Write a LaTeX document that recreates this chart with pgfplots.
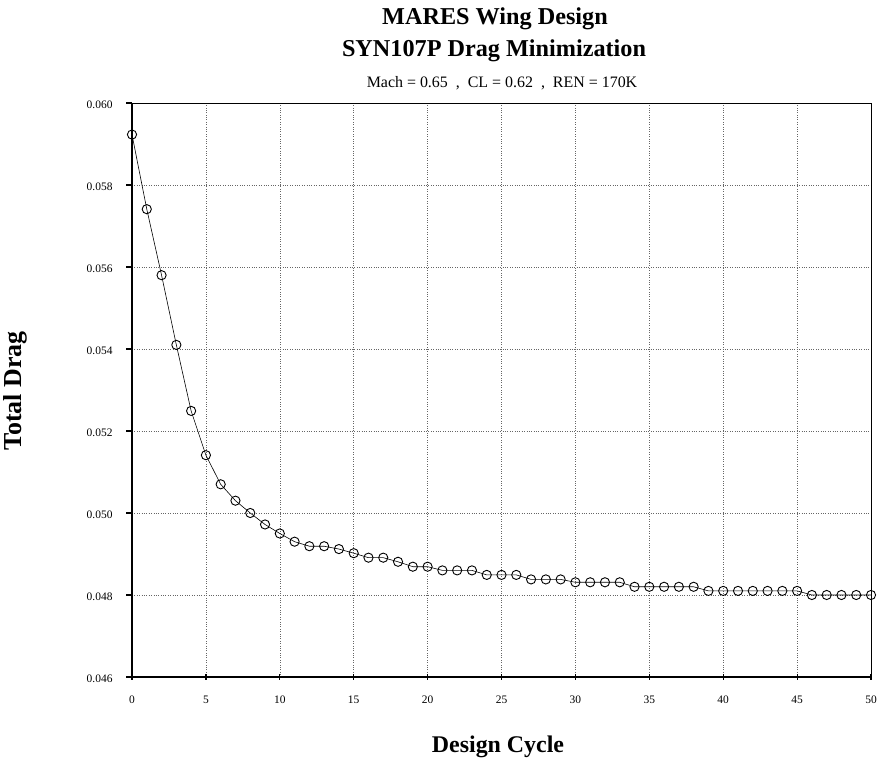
\documentclass[border=0pt]{standalone}
\usepackage{fontspec}
\setmainfont{Liberation Serif}
\usepackage{pgfplots}
\pgfplotsset{compat=1.18}
\begin{document}
\begin{tikzpicture}[x=1bp,y=1bp]
\useasboundingbox (0,0) rectangle (881,763);
\begin{axis}[
  at={(132bp,86bp)}, anchor=south west,
  scale only axis, width=739bp, height=574bp,
  xmin=0, xmax=50, ymin=0.046, ymax=0.060,
  xtick={0,5,...,50},
  ytick={0.046,0.048,...,0.0605},
  yticklabel style={/pgf/number format/fixed,/pgf/number format/fixed zerofill,/pgf/number format/precision=3, xshift=-10bp, yshift=-2bp},
  scaled y ticks=false,
  /pgf/number format/assume math mode=true,
  tick label style={font=\fontsize{11.5}{13}\selectfont},
  xticklabel style={yshift=-9bp},
  tick align=outside, major tick length=6bp,
  xtick style={yshift=3bp},
  tick style={black, line width=1.2bp},
  xtick pos=bottom, ytick pos=left,
  grid=major,
  grid style={dotted, gray!80!black, line width=0.6bp},
  axis line style={black, line width=0.8bp},
  clip=false,
]
\addplot[black, line width=0.6bp, mark=o, mark size=4.6bp, mark options={line width=0.9bp, solid}] coordinates {
(0,0.05923) (1,0.05741) (2,0.05580) (3,0.05410) (4,0.05249) (5,0.05141)
(6,0.05070) (7,0.05030) (8,0.05000) (9,0.04972) (10,0.04950) (11,0.04930)
(12,0.04919) (13,0.04919) (14,0.04912) (15,0.04902) (16,0.04891) (17,0.04891)
(18,0.04881) (19,0.04869) (20,0.04869) (21,0.04860) (22,0.04860) (23,0.04860)
(24,0.04849) (25,0.04849) (26,0.04849) (27,0.04838) (28,0.04838) (29,0.04838)
(30,0.04831) (31,0.04831) (32,0.04831) (33,0.04831) (34,0.04820) (35,0.04820)
(36,0.04820) (37,0.04820) (38,0.04820) (39,0.04810) (40,0.04810) (41,0.04810)
(42,0.04810) (43,0.04810) (44,0.04810) (45,0.04810) (46,0.04800) (47,0.04800)
(48,0.04800) (49,0.04800) (50,0.04800)
};
\draw[black, line width=1.6bp] (rel axis cs:0,1) -- (rel axis cs:0,0) -- (rel axis cs:1,0);
\end{axis}
\node[anchor=base, font=\fontsize{24.3}{27}\selectfont\bfseries] at (495,738) {MARES Wing Design};
\node[anchor=base, font=\fontsize{24.3}{27}\selectfont\bfseries] at (494,706) {SYN107P Drag Minimization};
\node[anchor=base, font=\fontsize{16}{19}\selectfont] at (502,675) {Mach = 0.65~~,~~CL = 0.62~~,~~REN = 170K};
\node[rotate=90, font=\fontsize{26}{29}\selectfont\bfseries] at (15,372) {Total Drag};
\node[anchor=base, font=\fontsize{24}{27}\selectfont\bfseries] at (498,10) {Design Cycle};
\end{tikzpicture}
\end{document}
